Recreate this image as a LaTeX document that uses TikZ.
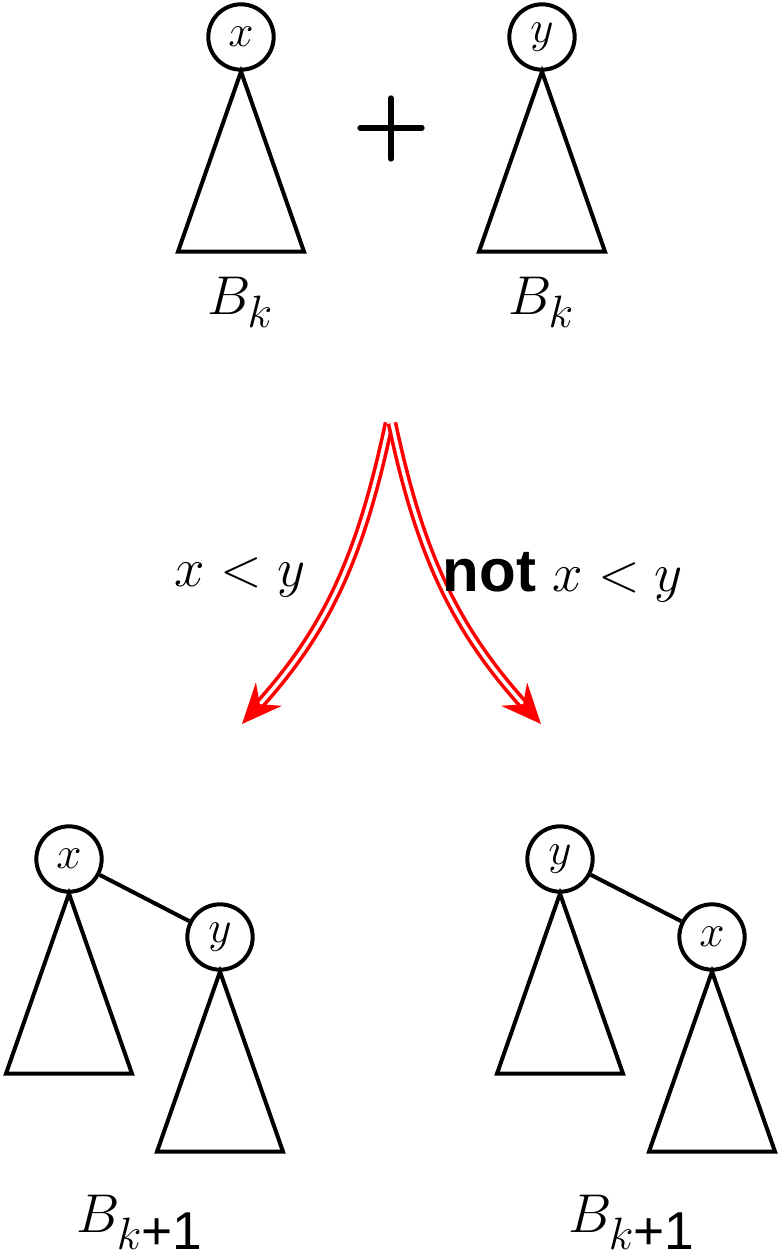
\RequirePackage{fix-cm}
\documentclass[tikz,border=0pt]{standalone}
\usepackage{fontspec}
\setsansfont{Liberation Sans}
\DeclareMathSizes{41}{41}{34}{28}
\newcommand{\subsf}[1]{\mbox{\fontsize{40}{40}\selectfont\sffamily #1}}
\usetikzlibrary{arrows.meta}
\tikzset{
  keynode/.style={circle,draw,line width=3pt,minimum size=49pt,inner sep=0pt,font=\fontsize{34}{34}\selectfont},
  tri/.style={draw,line width=3pt,line join=miter},
  edge/.style={draw,line width=3pt},
  biglabel/.style={font=\fontsize{41}{48}\selectfont,inner sep=0pt},
  plusbar/.style={draw,line width=4pt,line cap=round},
  redarrow/.style={draw=red,double=white,line width=2.7pt,double distance=2.6pt,
    -{Stealth[length=30pt,width=26pt,inset=10pt]}},
}
\begin{document}
\begin{tikzpicture}[x=0.75pt,y=-0.75pt]
\useasboundingbox (0,0) rectangle (780,1259);
% top trees
\node[keynode] (tx) at (241,37) {$x$};
\node[keynode] (ty) at (542,37) {$y$};
\draw[tri] (tx.south) -- ++(-63,180) -- ++(126,0) -- cycle;
\draw[tri] (ty.south) -- ++(-63,180) -- ++(126,0) -- cycle;
\node[biglabel] (tbk1) at (240,302) {$B_k$};
\node[biglabel] (tbk2) at (541,302) {$B_k$};
% plus sign
\coordinate (pl) at (360,128);
\coordinate (pr) at (422,128);
\coordinate (pt) at (391,98);
\coordinate (pb) at (391,159);
\draw[plusbar] (pl) -- (pr);
\draw[plusbar] (pt) -- (pb);
% arrows
\coordinate (s1) at (389,423);
\coordinate (s2) at (392,423);
\coordinate (e1) at (242,724);
\coordinate (e2) at (541,724);
\draw[redarrow] (s1) to[out=-102,in=48] (e1);
\draw[redarrow] (s2) to[out=-78,in=132] (e2);
\node[biglabel] (lab1) at (240,577) {$x<y$};
\node[biglabel] (lab2) at (563,577) {{\fontsize{45}{48}\selectfont\sffamily\bfseries not} $x<y$};
% bottom left
\node[keynode] (bx) at (69,859) {$x$};
\node[keynode] (by) at (220,937) {$y$};
\draw[edge] (bx) -- (by);
\draw[tri] (bx.south) -- ++(-63,180) -- ++(126,0) -- cycle;
\draw[tri] (by.south) -- ++(-63,180) -- ++(126,0) -- cycle;
\node[biglabel,anchor=base west] (bl1) at (76,1232) {$B_{k\subsf{+1}}$};
% bottom right
\node[keynode] (cy) at (560,859) {$y$};
\node[keynode] (cx) at (712,937) {$x$};
\draw[edge] (cy) -- (cx);
\draw[tri] (cy.south) -- ++(-63,180) -- ++(126,0) -- cycle;
\draw[tri] (cx.south) -- ++(-63,180) -- ++(126,0) -- cycle;
\node[biglabel,anchor=base west] (bl2) at (568,1232) {$B_{k\subsf{+1}}$};
\end{tikzpicture}
\end{document}
